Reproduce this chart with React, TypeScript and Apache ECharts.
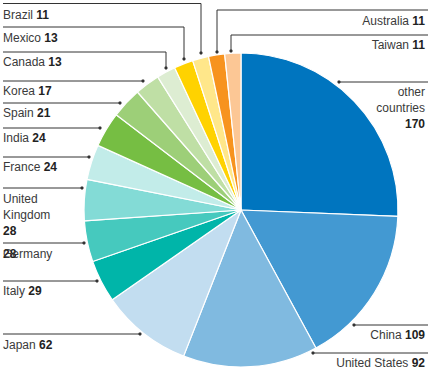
import React, { useEffect, useRef } from "react";
import * as echarts from "echarts";

// ---- data ----
const countries = [
  "other countries",
  "China",
  "United States",
  "Japan",
  "Italy",
  "Germany",
  "United Kingdom",
  "France",
  "India",
  "Spain",
  "Korea",
  "Canada",
  "Mexico",
  "Brazil",
  "Australia",
  "Taiwan",
];
const values = [170, 109, 92, 62, 29, 28, 28, 24, 24, 21, 17, 13, 13, 11, 11, 11];
const colors = [
  "#0075BF",
  "#4399D2",
  "#80BAE0",
  "#C2DDF0",
  "#00B5A9",
  "#46C9BE",
  "#83DBD6",
  "#C2ECE9",
  "#76BE43",
  "#9DCF78",
  "#BFDFA5",
  "#DDEDD2",
  "#FFD200",
  "#FFE78A",
  "#F7931E",
  "#FCC795",
];

// ---- label layout (positions only) ----
type Pt = [number, number];
type Lay = { x: number; y: number; align: string; va: string; line: Pt[] };
const labelLayouts: Lay[] = [
  { x: 425, y: 84, align: "right", va: "top", line: [[428, 82], [339, 82], [339, 82]] },
  { x: 425, y: 335, align: "right", va: "middle", line: [[428, 325], [354, 325], [354, 325]] },
  { x: 425, y: 363, align: "right", va: "middle", line: [[428, 353], [313, 353], [313, 353]] },
  { x: 3, y: 345, align: "left", va: "middle", line: [[3, 334], [140, 334], [140, 334]] },
  { x: 3, y: 291, align: "left", va: "middle", line: [[3, 281], [97, 281], [97, 281]] },
  { x: 3, y: 254, align: "left", va: "middle", line: [[3, 243], [84, 243], [84, 243]] },
  { x: 3, y: 191, align: "left", va: "top", line: [[3, 188], [82, 188], [82, 188]] },
  { x: 3, y: 167, align: "left", va: "middle", line: [[3, 157], [89, 157], [89, 157]] },
  { x: 3, y: 138, align: "left", va: "middle", line: [[3, 128], [100, 128], [100, 128]] },
  { x: 3, y: 113, align: "left", va: "middle", line: [[3, 103], [120, 103], [120, 103]] },
  { x: 3, y: 91, align: "left", va: "middle", line: [[3, 81], [143, 81], [143, 81]] },
  { x: 3, y: 62, align: "left", va: "middle", line: [[3, 52], [166, 52], [166, 68]] },
  { x: 3, y: 38, align: "left", va: "middle", line: [[3, 27], [184, 27], [184, 59]] },
  { x: 3, y: 14.5, align: "left", va: "middle", line: [[3, 3.5], [201, 3.5], [201, 53]] },
  { x: 425, y: 21, align: "right", va: "middle", line: [[428, 10], [217, 10], [217, 52]] },
  { x: 425, y: 45, align: "right", va: "middle", line: [[428, 35], [231, 35], [231, 51]] },
];

const FONT = "'Liberation Sans', Arial, Helvetica, sans-serif";

function labelText(name: string, value: number): string {
  if (name === "other countries") return `{n|other}\n{n|countries}\n{v|${value}}`;
  if (name === "United Kingdom") return `{n|United}\n{n|Kingdom}\n{v|${value}}`;
  if (name === "Germany") return `{z|${value}}{n|${name}}`;
  return `{n|${name}} {v|${value}}`;
}

export default function App() {
  const ref = useRef<HTMLDivElement>(null);
  useEffect(() => {
    if (!ref.current) return;
    const chart = echarts.init(ref.current, undefined, { renderer: "svg" });
    const data = countries.map((c, i) => ({
      name: c,
      value: values[i],
      itemStyle: { color: colors[i] },
    }));
    const dots = labelLayouts.map((l) => {
      const p = l.line[l.line.length - 1];
      return {
        type: "circle",
        shape: { cx: p[0], cy: p[1], r: 1.6 },
        style: { fill: "#333" },
        z: 100,
      };
    });
    chart.setOption({
      animation: false,
      backgroundColor: "#fff",
      graphic: dots,
      series: [
        {
          type: "pie",
          center: [241, 210],
          radius: [0, 157],
          startAngle: 90,
          clockwise: true,
          avoidLabelOverlap: false,
          data,
          itemStyle: { borderColor: "#fff", borderWidth: 1.2 },
          emphasis: { disabled: true },
          label: {
            show: true,
            position: "outside",
            fontFamily: FONT,
            fontSize: 12,
            color: "#3a3a3a",
            formatter: (p: any) => labelText(p.name, p.value),
            rich: {
              n: { fontFamily: FONT, fontSize: 12, color: "#3a3a3a", lineHeight: 16 },
              v: { fontFamily: FONT, fontSize: 12, fontWeight: "bold", color: "#222", lineHeight: 16 },
              z: { fontFamily: FONT, fontSize: 12, fontWeight: "bold", color: "#222", lineHeight: 16, width: 0 },
            },
          },
          labelLine: {
            show: true,
            length: 10,
            length2: 10,
            smooth: false,
            lineStyle: { color: "#333", width: 1 },
          },
          labelLayout: (params: any) => {
            const L = labelLayouts[params.dataIndex];
            return {
              x: L.x,
              y: L.y,
              align: L.align,
              verticalAlign: L.va,
              labelLinePoints: L.line,
            };
          },
        },
      ],
    });
    return () => chart.dispose();
  }, []);
  return (
    <div
      ref={ref}
      style={{ position: "absolute", left: 0, top: 0, width: 428, height: 374 }}
    />
  );
}
